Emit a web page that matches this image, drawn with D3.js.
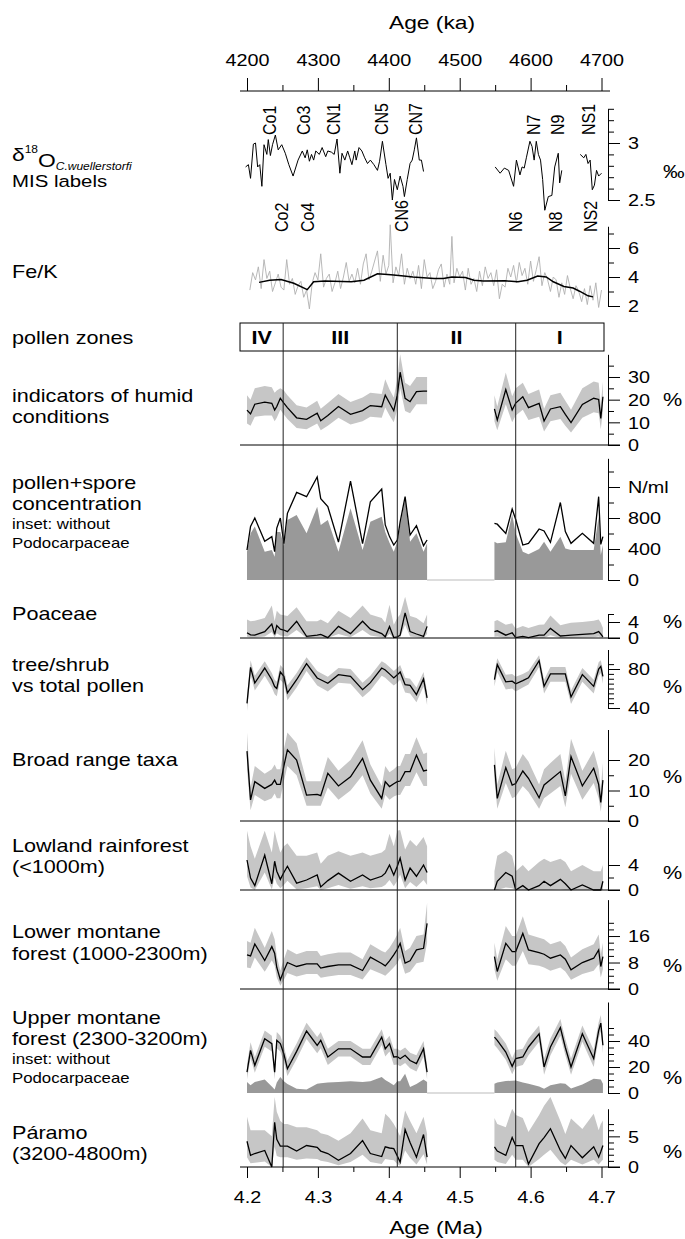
<!DOCTYPE html>
<html>
<head>
<meta charset="utf-8">
<script src="https://cdn.jsdelivr.net/npm/d3@7"></script>
<style>
  body { margin: 0; background: #fff; }
  svg text { font-family: "Liberation Sans", Arial, sans-serif; fill: #000; }
</style>
</head>
<body>
<svg id="chart" width="685" height="1239"></svg>
<script>
// ---------------- pollen samples (age in Ma) ----------------
const sampleAge = [4.200, 4.205, 4.211, 4.225, 4.235, 4.239, 4.242, 4.247, 4.252, 4.257, 4.270, 4.284, 4.299, 4.304, 4.314,
  4.329, 4.346, 4.363, 4.374, 4.390, 4.395, 4.401, 4.407, 4.412, 4.416, 4.423, 4.430, 4.439, 4.449, 4.454,
  4.549, 4.553, 4.565, 4.574, 4.579, 4.589, 4.597, 4.612, 4.619, 4.628, 4.642, 4.649, 4.657, 4.673, 4.689, 4.696, 4.699, 4.702];

// indicators of humid conditions (%)
const humidVal = [15.4, 13.7, 18, 18.9, 18.4, 15.4, 17, 20.6, 18.5, 16.5, 12, 11.3, 14, 10.7, 13, 17, 13.5, 15.2, 17.4, 16.9, 22, 18.5, 15.1, 22, 32.1, 20.6, 19.1, 23.5, 23.8, 23.8,
  15.9, 11, 24.5, 15.4, 18.5, 21.3, 16.5, 18.4, 10.6, 15.9, 16.9, 13.5, 9.9, 17.9, 20.6, 20.1, 11.7, 21.3];
const humidHi = [22, 20, 25, 26, 25.5, 23, 24, 25, 24, 22, 17.5, 16.5, 19.5, 16, 18.5, 22.5, 19, 21, 23, 22.5, 29, 24.5, 21, 29, 40, 27.5, 26, 30, 30, 30,
  22, 17, 32, 21.5, 25, 27.5, 22.5, 24.5, 16, 22, 23, 19.5, 15.5, 25, 28, 27.5, 17.5, 28];
const humidLo = [9.5, 8.5, 12.5, 13, 13, 10.5, 12, 15.5, 13.5, 11.5, 7.5, 7, 9.5, 6.5, 8.5, 12, 9, 10.5, 12.5, 12, 16.5, 13, 10, 16, 25, 15, 14, 18, 18, 18,
  10.5, 6.5, 18, 10, 13, 15.5, 11, 12.5, 6, 10.5, 11.5, 8.5, 5.5, 12, 14.5, 14, 7, 15];

// pollen + spore concentration (N/ml), total and without Podocarpaceae
const concTotal = [387, 690, 800, 500, 560, 365, 670, 800, 470, 860, 1130, 1075, 1330, 1050, 946, 490, 1277, 470, 1010, 1174, 710, 560, 451, 516, 750, 1075, 580, 700, 443, 516,
  730, 720, 600, 916, 780, 451, 473, 658, 632, 486, 1000, 624, 473, 602, 473, 1075, 460, 559];
const concNoPodo = [365, 600, 690, 365, 387, 300, 620, 620, 440, 774, 838, 602, 946, 710, 774, 365, 925, 387, 752, 817, 620, 480, 365, 495, 700, 1050, 495, 602, 365, 473,
  495, 473, 486, 847, 600, 365, 331, 400, 495, 365, 559, 408, 387, 387, 387, 817, 322, 451];

// Poaceae (%)
const poaceaeVal = [1.3, 0.8, 0.7, 1.6, 3.5, 0.9, 3.1, 2.2, 2.0, 1.6, 4.2, 0.4, 0.7, 0.9, 0.1, 2.9, 1.1, 4.2, 2.2, 1.1, 0.3, 2.9, 0.1, 0.3, 0.7, 6.3, 1.6, 1.0, 0.4, 2.9,
  1.6, 1.8, 0.7, 1.3, 0.1, 0.4, 0.1, 0.7, 0.7, 2.4, 0.5, 0.6, 0.7, 0.9, 1.1, 1.6, 1.0, 0.3];
const poaceaeHi = [4.6, 4.2, 4.3, 5, 8.1, 4.2, 6.8, 5.9, 5.7, 5.5, 7.7, 4.2, 4.2, 4.6, 3.7, 6.8, 5, 8.1, 5.9, 5, 3.8, 8.3, 3.3, 5, 5.9, 10.3, 5.5, 5, 3.7, 5.9,
  4.2, 4.5, 3.3, 3.7, 2.3, 3, 2.5, 3.3, 3.4, 5.6, 3.2, 3.5, 3.8, 4, 4.3, 4.6, 3.8, 2.5];
const poaceaeLo = [0.3, 0.1, 0.1, 0.4, 1.5, 0.1, 1.2, 0.6, 0.5, 0.4, 2, 0, 0.1, 0.1, 0, 1, 0.2, 2, 0.6, 0.2, 0, 1, 0, 0, 0.1, 3.3, 0.4, 0.2, 0, 1,
  0.3, 0.4, 0, 0.2, 0, 0, 0, 0, 0, 0.7, 0, 0, 0, 0.1, 0.2, 0.4, 0.1, 0];

// tree/shrub vs total pollen (%)
const treeVal = [44.8, 81.7, 65.6, 81, 69, 62, 60, 76.9, 72.5, 55.4, 69, 85.5, 70.8, 69, 65.3, 74.2, 72.5, 58.8, 66, 81, 79, 75, 70.8, 74, 76.9, 63.9, 63.2, 53.7, 69.8, 50.3,
  69.2, 84.5, 66.8, 67.5, 64.8, 68, 71, 88.5, 62.2, 74.9, 74.9, 74.9, 51.3, 74.2, 62.2, 80, 82.7, 72.5];
const treeHi = [52, 89, 73, 88, 76, 69, 67, 84, 80, 63, 76, 92, 78, 76, 72, 81, 80, 66, 73, 88, 86, 82, 78, 81, 84, 71, 70, 61, 77, 57,
  76, 91, 74, 75, 72, 75, 78, 94, 69, 82, 82, 82, 58, 81, 69, 87, 89, 79];
const treeLo = [37, 74, 58, 73, 61, 54, 52, 69, 65, 48, 61, 78, 63, 61, 57, 66, 65, 51, 58, 73, 71, 67, 63, 66, 69, 56, 55, 46, 62, 43,
  62, 77, 59, 60, 57, 61, 64, 82, 55, 67, 67, 67, 44, 67, 55, 73, 76, 65];

// broad range taxa (%)
const broadVal = [22.9, 6.9, 12.9, 10.7, 12, 13.4, 12, 12, 18, 23.3, 20, 8.5, 8.7, 8.3, 15.6, 11.5, 14.5, 20.5, 13.4, 7.4, 12.9, 11.3, 12.2, 12.9, 13.1, 16.2, 16.2, 21.6, 16.4, 16.7,
  18.4, 7.4, 17.5, 11.8, 12.3, 16.4, 14, 7.6, 11.8, 13.5, 16.2, 8.2, 21.1, 11.5, 17.3, 12, 6.1, 13.4];
const broadHi = [29, 11, 18, 15.5, 17, 18.5, 17, 17, 23.5, 29, 25.5, 13, 13, 13, 21, 16.5, 20, 26.5, 18.5, 11.5, 18, 16, 17, 18, 18, 22, 22, 27.5, 22, 22.5,
  24, 12, 23, 17, 17.5, 22, 19.5, 12, 17, 19, 22, 13, 27, 16.5, 23, 17, 10.5, 19];
const broadLo = [17, 3.5, 8.5, 6.5, 7.5, 9, 7.5, 7.5, 13, 18, 15, 5, 5, 5, 11, 7, 10, 15, 9, 4, 8.5, 7, 8, 8.5, 8.5, 11.5, 11.5, 16, 11.5, 11.5,
  13.5, 4, 12.5, 7.5, 8, 11.5, 9.5, 4, 7.5, 9, 11.5, 4.5, 15.5, 7, 12.5, 7.5, 3, 9];

// lowland rainforest (<1000 m) (%)
const lowlandVal = [4.8, 1.9, 0.7, 5.6, 1.0, 4.6, 3.0, 1.7, 2.8, 3.8, 1.1, 1.6, 2.4, 0.5, 1.5, 2.7, 1.4, 2.4, 1.6, 2.2, 2.7, 4.0, 2.4, 3.8, 5.1, 1.6, 3.5, 2.2, 4.0, 2.8,
  0, 1.4, 2.8, 2.2, 0, 0.7, 0, 0.7, 1.4, 0.7, 1.7, 1.0, 0, 0.8, 0, 0, 0, 1.4];
const lowlandHi = [9.5, 7, 5, 9.5, 6, 9.5, 8, 6, 7, 7.5, 5.5, 5.5, 6, 4.2, 5.5, 6.2, 5.5, 6, 5.5, 6, 6.5, 9, 7, 9.5, 9.6, 6.5, 8, 7, 8.5, 7,
  3, 5.5, 6.3, 5.5, 3, 4, 3, 4.5, 5, 4.5, 5, 4.5, 3, 4, 3, 3, 3, 4];
const lowlandLo = [2.2, 0.4, 0, 2.8, 0.1, 2, 1, 0.3, 0.8, 1.5, 0.1, 0.3, 0.6, 0, 0.3, 0.8, 0.2, 0.6, 0.3, 0.5, 0.8, 1.6, 0.6, 1.5, 2.5, 0.3, 1.3, 0.5, 1.6, 0.8,
  0, 0, 0.4, 0.3, 0, 0, 0, 0, 0, 0, 0.1, 0, 0, 0, 0, 0, 0, 0];

// lower montane forest (1000-2300 m) (%)
const lowerMontVal = [10.3, 10, 13.6, 8.6, 12.8, 10.8, 6.5, 2.8, 5.5, 8, 6.8, 7.6, 7.6, 6.3, 6.8, 7.3, 7.3, 5.6, 9.6, 7.7, 7, 8.5, 10.3, 12, 13.8, 7.8, 8.5, 11.8, 12.3, 19.8,
  9.8, 5.3, 13.8, 11.3, 11.3, 16.8, 11.8, 11, 10.5, 9.3, 10.3, 9, 5.8, 8, 9.3, 11.8, 6.8, 9.8];
const lowerMontHi = [14.5, 14, 18.5, 12.5, 17.5, 15, 10, 5.5, 9, 12, 10.5, 11.5, 11.5, 10, 10.5, 11, 11, 9, 13.5, 11.5, 11, 12.5, 14.5, 16.5, 18.5, 11.5, 12.5, 16, 16.5, 26,
  14, 9, 19, 16, 16, 22, 16.5, 15.5, 15, 13.5, 14.5, 13, 9.5, 12, 13.5, 16.5, 10.5, 14];
const lowerMontLo = [6.5, 6.3, 9.5, 5.2, 8.7, 7, 3.5, 1, 2.8, 4.8, 3.8, 4.5, 4.5, 3.4, 3.8, 4.2, 4.2, 2.9, 6, 4.5, 4, 5.2, 6.6, 7.8, 9.5, 4.6, 5.2, 7.8, 8.2, 14,
  6, 2.5, 9, 7, 7, 11.5, 7.5, 7, 6.5, 5.5, 6.5, 5.3, 2.8, 4.5, 5.5, 7.5, 3.5, 6];

// upper montane forest (2300-3200 m) (%), and without Podocarpaceae
const upperMontVal = [16, 32.8, 21.3, 41.8, 38, 16, 40.5, 38, 30, 18.7, 32, 47.7, 36.7, 40.5, 27.7, 34, 34, 27.7, 27.7, 43, 34, 38, 27.7, 28, 26.4, 29, 25, 22.6, 34, 16,
  43, 40.5, 31.5, 20.5, 26.4, 27.7, 35.4, 45.6, 20, 35.4, 50.3, 35, 20, 45.6, 26.4, 48, 53.8, 36.7];
const upperMontHi = [22, 39, 27.5, 48, 44, 22, 47, 44, 36, 25, 38, 54, 43, 47, 34, 40, 40, 34, 34, 49, 40, 44, 34, 34, 32.5, 35, 31, 29, 40, 22,
  49, 47, 38, 27, 33, 34, 42, 52, 26.5, 42, 57, 41.5, 26.5, 52, 33, 54.5, 60, 43];
const upperMontLo = [10.5, 27, 15.5, 35.5, 32, 10.5, 34.5, 32, 24, 13, 26, 41.5, 30.5, 34.5, 21.5, 28, 28, 21.5, 21.5, 37, 28, 32, 21.5, 22, 20.5, 23, 19, 16.5, 28, 10.5,
  37, 34.5, 25.5, 14.5, 20, 21.5, 29, 39.5, 14, 29, 44, 29, 14, 39.5, 20, 42, 47.5, 30.5];
const upperMontNoPodo = [8.5, 5.9, 8.5, 10.3, 5, 2.6, 8, 12.3, 9, 7, 3.3, 2.6, 7.2, 7.5, 8, 8.5, 9, 8.5, 9, 12.3, 10, 8, 6, 9, 9, 14.9, 4.6, 7, 10.3, 8.5,
  7.2, 8, 9.2, 9.5, 9.7, 8, 7.2, 5, 3.3, 6, 7.5, 7.2, 3.5, 6.5, 11, 10.5, 10.3, 7.2];

// Páramo (3200-4800 m) (%)
const paramoVal = [4.2, 1.9, 2.2, 2.7, 0, 7.3, 4.5, 3.4, 3.4, 3.4, 2.6, 3.5, 3.2, 2.6, 2.2, 1.1, 2.2, 4.3, 2.2, 1.7, 3.3, 3.1, 3.0, 1.8, 0.8, 6.1, 4.0, 1.6, 5.3, 1.6,
  3.3, 2.6, 1.9, 4.8, 3.5, 3.5, 0.5, 3.8, 4.8, 6.25, 2.7, 1.4, 3.5, 1.5, 3.3, 1.6, 2.5, 3.5];
const paramoHi = [8.2, 6, 6, 6, 5, 11.4, 9, 7.5, 7, 7, 6.5, 6.5, 6, 5.5, 5.2, 4.3, 5.5, 7.9, 6, 5.5, 8.7, 8, 7, 6, 5, 9.2, 7.5, 5.5, 8.2, 5.4,
  8, 7, 6.5, 9.5, 8.5, 8, 5.7, 8.5, 10, 11.4, 7.5, 5.4, 7.9, 6.2, 8.7, 6, 7, 7.6];
const paramoLo = [1.6, 0.6, 0.7, 0.9, 0, 3.3, 1.8, 1.6, 1.6, 1.6, 1.2, 1.4, 1.3, 1, 0.8, 0.3, 0.8, 2, 0.8, 0.5, 1.3, 1.2, 1.1, 0.5, 0.2, 2.7, 1.5, 0.4, 2.1, 0.4,
  1.2, 0.8, 0.5, 2, 1.2, 1.2, 0, 1.3, 2, 2.8, 0.8, 0.3, 1.2, 0.4, 1.2, 0.4, 0.8, 1.2];

// ---------------- benthic δ18O (C. wuellerstorfi), ‰ ----------------
const d18oAge = [4.198, 4.202, 4.205, 4.209, 4.212, 4.215, 4.218, 4.221, 4.224, 4.228, 4.230, 4.233, 4.236, 4.240, 4.244, 4.249, 4.254, 4.259, 4.265, 4.272,
  4.278, 4.282, 4.285, 4.288, 4.291, 4.294, 4.297, 4.302, 4.306, 4.311, 4.314, 4.319, 4.323, 4.327, 4.331, 4.334, 4.338, 4.342, 4.345, 4.348,
  4.352, 4.354, 4.358, 4.362, 4.366, 4.370, 4.374, 4.379, 4.384, 4.387, 4.391, 4.396, 4.399, 4.402, 4.405, 4.408, 4.412, 4.416, 4.420, 4.422,
  4.426, 4.430, 4.433, 4.436, 4.439, 4.443, 4.446, 4.449,
  4.550, 4.557, 4.563, 4.569, 4.576, 4.580, 4.585, 4.588, 4.591, 4.594, 4.599, 4.602, 4.605, 4.608, 4.611, 4.614, 4.617, 4.620, 4.625, 4.630,
  4.634, 4.639, 4.641, 4.644,
  4.670, 4.675, 4.678, 4.681, 4.684, 4.687, 4.690, 4.693, 4.696, 4.700];
const d18oVal = [2.79, 2.81, 2.69, 2.99, 3.0, 2.79, 2.81, 2.62, 2.985, 2.9, 3.03, 2.89, 2.985, 3.07, 2.94, 2.985, 2.91, 2.81, 2.71, 2.85,
  2.93, 2.87, 2.94, 2.84, 2.9, 2.85, 2.93, 2.9, 2.96, 2.88, 2.93, 2.92, 2.9, 3.035, 2.735, 2.91, 2.85, 2.93, 2.87, 2.81,
  2.93, 2.85, 2.96, 2.93, 2.87, 2.82, 2.85, 2.81, 2.76, 2.84, 3.015, 2.81, 2.69, 2.735, 2.5, 2.68, 2.59, 2.71, 2.62, 2.53,
  2.68, 2.82, 2.85, 2.94, 3.045, 2.85, 2.85, 2.75,
  2.79, 2.735, 2.78, 2.76, 2.62, 2.85, 2.72, 2.79, 2.78, 2.87, 3.015, 2.97, 2.85, 3.015, 2.9, 2.85, 2.68, 2.41, 2.53, 2.54,
  2.79, 2.91, 2.65, 2.76,
  2.9, 2.87, 2.9, 2.82, 2.85, 2.59, 2.63, 2.76, 2.71, 2.735];

// marine isotope stage labels
const misTopLabel = ["Co1", "Co3", "CN1", "CN5", "CN7", "N7", "N9", "NS1"];
const misTopAge = [4.232, 4.279, 4.322, 4.390, 4.437, 4.604, 4.638, 4.681];
const misBottomLabel = ["Co2", "Co4", "CN6", "N6", "N8", "NS2"];
const misBottomAge = [4.248, 4.285, 4.418, 4.579, 4.635, 4.684];

// ---------------- XRF Fe/K ----------------
const feKAge = [4.204, 4.208, 4.212, 4.216, 4.220, 4.224, 4.228, 4.232, 4.236, 4.240, 4.244, 4.248, 4.252, 4.256, 4.260, 4.264, 4.268, 4.272, 4.276, 4.280,
  4.284, 4.288, 4.292, 4.296, 4.300, 4.304, 4.308, 4.312, 4.316, 4.320, 4.324, 4.328, 4.332, 4.336, 4.340, 4.344, 4.348, 4.352, 4.356, 4.360,
  4.364, 4.368, 4.372, 4.376, 4.380, 4.384, 4.388, 4.392, 4.396, 4.400, 4.402, 4.406, 4.410, 4.414, 4.418, 4.422, 4.426, 4.430, 4.434, 4.438,
  4.442, 4.446, 4.450, 4.454, 4.458, 4.462, 4.466, 4.470, 4.474, 4.478, 4.482, 4.486, 4.489, 4.492, 4.496, 4.500, 4.504, 4.508, 4.512, 4.516,
  4.520, 4.524, 4.528, 4.532, 4.536, 4.540, 4.544, 4.548, 4.552, 4.556, 4.560, 4.564, 4.568, 4.572, 4.576, 4.580, 4.584, 4.588, 4.592, 4.596,
  4.600, 4.604, 4.608, 4.612, 4.616, 4.620, 4.624, 4.628, 4.632, 4.636, 4.640, 4.644, 4.648, 4.652, 4.656, 4.660, 4.664, 4.668, 4.672, 4.676,
  4.680, 4.684, 4.688, 4.692, 4.696, 4.700];
const feKRaw = [3.1, 4.3, 3.8, 4.7, 3.2, 5.2, 3.9, 4.4, 3.0, 3.6, 4.2, 3.3, 3.1, 5.2, 3.5, 3.9, 2.8, 3.4, 3.7, 2.6,
  3.1, 1.8, 3.6, 4.3, 3.8, 5.6, 3.3, 3.9, 4.2, 3.0, 3.6, 4.4, 3.2, 4.0, 5.0, 3.7, 4.2, 3.6, 4.6, 3.5,
  4.9, 5.6, 3.8, 4.4, 5.1, 5.8, 3.7, 5.5, 4.2, 4.8, 7.6, 3.6, 4.7, 4.1, 5.6, 3.5, 4.6, 3.9, 4.4, 3.5,
  4.8, 3.2, 5.2, 4.0, 4.3, 3.2, 3.7, 4.5, 4.9, 3.3, 4.2, 3.5, 6.8, 3.6, 4.6, 4.0, 4.4, 3.1, 4.6, 3.5,
  3.9, 3.0, 4.4, 3.4, 4.7, 3.9, 4.3, 3.4, 4.5, 2.5, 3.5, 3.3, 4.6, 4.0, 4.8, 3.6, 5.0, 4.1, 4.6, 3.5,
  5.1, 3.7, 4.5, 5.4, 3.4, 4.3, 3.8, 3.0, 4.0, 3.8, 2.6, 3.6, 2.8, 4.1, 3.2, 2.5, 3.4, 3.0, 2.3, 3.2,
  2.1, 3.4, 2.4, 3.6, 1.9, 3.1];
const feKSmoothAge = [4.217, 4.232, 4.248, 4.266, 4.285, 4.294, 4.310, 4.347, 4.365, 4.384, 4.403, 4.421, 4.434, 4.464, 4.477,
  4.489, 4.508, 4.520, 4.533, 4.564, 4.582, 4.595, 4.610, 4.622, 4.632, 4.647, 4.660, 4.669, 4.681, 4.688];
const feKSmooth = [3.63, 3.78, 3.83, 3.57, 3.13, 3.67, 3.72, 3.67, 3.78, 4.22, 4.15, 4.07, 4.0, 3.89, 3.89,
  4.0, 3.96, 3.78, 3.72, 3.74, 3.67, 3.78, 4.07, 4.0, 3.67, 3.35, 3.24, 3.02, 2.7, 2.63];

// ---------------- pollen zones & axes ----------------
const zoneBounds = [4.251, 4.412, 4.579];
const zoneNames = ["IV", "III", "II", "I"];
const maTicks = [4.2, 4.3, 4.4, 4.5, 4.6, 4.7];
const maMinorTicks = [4.25, 4.35, 4.45, 4.55, 4.65];
const kaTicks = [4200, 4300, 4400, 4500, 4600, 4700];
const kaMinorTicks = [4250, 4350, 4450, 4550, 4650];

// ---------------- drawing ----------------
const SX = 1.2;                 // lettering is set slightly wide
const svg = d3.select("#chart");
const x = d3.scaleLinear().domain([4.2, 4.7]).range([247, 601.5]);
const xKa = d3.scaleLinear().domain([4200, 4700]).range([247, 601.5]);
const AXIS_X = 608, LEFT = 240, RIGHT = 620;
const BAND = "#c6c6c6", FILL = "#999999";

function label(parent, px, py, s, size, opt = {}) {
  const t = parent.append("text")
    .attr("transform", `translate(${px},${py}) scale(${SX},1)` + (opt.rotate ? ` rotate(${opt.rotate})` : ""))
    .attr("font-size", size)
    .attr("dy", opt.dy || "0.35em")
    .attr("text-anchor", opt.anchor || "start");
  if (opt.bold) t.attr("font-weight", "bold");
  if (s != null) t.text(s);
  return t;
}

function runs(ages, maxGap) {
  const out = [[]];
  ages.forEach((a, i) => {
    if (i > 0 && a - ages[i - 1] > maxGap) out.push([]);
    out[out.length - 1].push(i);
  });
  return out;
}

function rightAxis(g, y, major, labels, minor, labelSize) {
  const minorAx = d3.axisRight(y).tickValues(minor).tickSize(6).tickSizeOuter(0).tickFormat("");
  const majorAx = d3.axisRight(y).tickValues(major).tickSize(12).tickSizeOuter(0)
    .tickFormat((d, i) => labels[i]);
  g.append("g").attr("transform", `translate(${AXIS_X},0)`).call(minorAx)
    .call(s => s.select(".domain").remove());
  const gm = g.append("g").attr("transform", `translate(${AXIS_X},0)`).call(majorAx)
    .attr("font-family", null).attr("font-size", null);
  gm.selectAll(".tick text")
    .attr("x", null).attr("dy", "0.35em")
    .attr("font-size", labelSize || 16.5)
    .attr("transform", `translate(20,0) scale(${SX},1)`);
  g.selectAll("path.domain, .tick line").attr("stroke", "#000").attr("stroke-width", 1);
}

const pollenRuns = runs(sampleAge, 0.05);

function pollenPanel(p) {
  const top = p.base - (p.max - p.min) * p.ppu;
  const y = d3.scaleLinear().domain([p.min, p.max]).range([p.base, top]);
  const g = svg.append("g");
  if (p.fill) {
    pollenRuns.forEach(r => g.append("path").datum(r)
      .attr("fill", FILL)
      .attr("d", d3.area().x(i => x(sampleAge[i])).y0(y(p.min)).y1(i => y(p.fill[i]))));
    g.append("line")
      .attr("x1", x(sampleAge[pollenRuns[0][pollenRuns[0].length - 1]]))
      .attr("x2", x(sampleAge[pollenRuns[1][0]]))
      .attr("y1", y(p.min)).attr("y2", y(p.min))
      .attr("stroke", "#bbbbbb").attr("stroke-width", 1);
  }
  if (p.hi) {
    pollenRuns.forEach(r => g.append("path").datum(r)
      .attr("fill", BAND)
      .attr("d", d3.area().x(i => x(sampleAge[i])).y0(i => y(p.lo[i])).y1(i => y(p.hi[i]))));
  }
  pollenRuns.forEach(r => g.append("path").datum(r)
    .attr("fill", "none").attr("stroke", "#000").attr("stroke-width", 1.3)
    .attr("stroke-linejoin", "miter")
    .attr("d", d3.line().x(i => x(sampleAge[i])).y(i => y(p.val[i]))));
  if (p.baseline) {
    g.append("line").attr("x1", LEFT).attr("x2", RIGHT)
      .attr("y1", y(p.min)).attr("y2", y(p.min))
      .attr("stroke", "#000").attr("stroke-width", 1);
  }
  rightAxis(g, y, p.major, p.labels, p.minor);
  if (p.unit) label(g, 663, p.unitY, p.unit, 18);
}

// δ18O panel
{
  const yO = d3.scaleLinear().domain([2.5, 3.3]).range([200, 200 - 0.8 * 114]);
  const g = svg.append("g");
  runs(d18oAge, 0.02).forEach(r => g.append("path").datum(r)
    .attr("fill", "none").attr("stroke", "#000").attr("stroke-width", 1)
    .attr("d", d3.line().x(i => x(d18oAge[i])).y(i => yO(d18oVal[i]))));
  rightAxis(g, yO, [2.5, 3.0], ["2.5", "3"], [2.6, 2.7, 2.8, 2.9, 3.1, 3.2, 3.3]);
  label(g, 663, 172, "‰", 18);
  misTopLabel.forEach((s, i) => label(g, x(misTopAge[i]), 135, s, 16, { rotate: -90 }));
  misBottomLabel.forEach((s, i) => label(g, x(misBottomAge[i]), 232, s, 16, { rotate: -90 }));
}

// Fe/K panel
{
  const yF = d3.scaleLinear().domain([2, 7.5]).range([306, 306 - 5.5 * 14.5]);
  const g = svg.append("g");
  g.append("path").datum(feKRaw)
    .attr("fill", "none").attr("stroke", "#b0b0b0").attr("stroke-width", 0.9)
    .attr("d", d3.line().x((d, i) => x(feKAge[i])).y(d => yF(d)));
  g.append("path").datum(feKSmooth)
    .attr("fill", "none").attr("stroke", "#000").attr("stroke-width", 1.5)
    .attr("d", d3.line().x((d, i) => x(feKSmoothAge[i])).y(d => yF(d)));
  rightAxis(g, yF, [2, 4, 6], ["2", "4", "6"], [3, 5, 7]);
}

// pollen zone box
{
  const g = svg.append("g");
  g.append("rect").attr("x", LEFT).attr("y", 323).attr("width", 604 - LEFT).attr("height", 28)
    .attr("fill", "none").attr("stroke", "#000").attr("stroke-width", 1);
  const edges = [LEFT, ...zoneBounds.map(x), 604];
  zoneNames.forEach((s, i) => label(g, (edges[i] + edges[i + 1]) / 2, 338, s, 18, { anchor: "middle", bold: true }));
}

pollenPanel({ val: humidVal, lo: humidLo, hi: humidHi, min: 0, max: 40, base: 445, ppu: 2.267, baseline: true,
  major: [0, 10, 20, 30], labels: ["0", "10", "20", "30"], minor: [5, 15, 25, 35], unit: "%", unitY: 400 });
pollenPanel({ val: concTotal, fill: concNoPodo, min: 0, max: 1570, base: 580, ppu: 0.0775,
  major: [0, 400, 800, 1200], labels: ["0", "400", "800", "N/ml"], minor: [200, 600, 1000, 1400] });
pollenPanel({ val: poaceaeVal, lo: poaceaeLo, hi: poaceaeHi, min: 0, max: 6, base: 638, ppu: 4, baseline: true,
  major: [0, 4], labels: ["0", "4"], minor: [6], unit: "%", unitY: 622 });
pollenPanel({ val: treeVal, lo: treeLo, hi: treeHi, min: 40, max: 100, base: 708, ppu: 0.975,
  major: [40, 80], labels: ["40", "80"], minor: [45, 50, 55, 60, 65, 70, 75, 85], unit: "%", unitY: 687 });
pollenPanel({ val: broadVal, lo: broadLo, hi: broadHi, min: 0, max: 30, base: 821, ppu: 3.05, baseline: true,
  major: [0, 10, 20], labels: ["0", "10", "20"], minor: [5, 15], unit: "%", unitY: 777 });
pollenPanel({ val: lowlandVal, lo: lowlandLo, hi: lowlandHi, min: 0, max: 10, base: 890, ppu: 6.25, baseline: true,
  major: [0, 4], labels: ["0", "4"], minor: [2], unit: "%", unitY: 873 });
pollenPanel({ val: lowerMontVal, lo: lowerMontLo, hi: lowerMontHi, min: 0, max: 27, base: 989, ppu: 3.31, baseline: true,
  major: [0, 8, 16], labels: ["0", "8", "16"], minor: [2, 4, 6, 10, 12, 14, 18, 20], unit: "%", unitY: 966 });
pollenPanel({ val: upperMontVal, lo: upperMontLo, hi: upperMontHi, fill: upperMontNoPodo, min: 0, max: 70, base: 1093, ppu: 1.3,
  major: [0, 20, 40], labels: ["0", "20", "40"], minor: [5, 10, 15, 25, 30, 35, 45, 50], unit: "%", unitY: 1078 });
pollenPanel({ val: paramoVal, lo: paramoLo, hi: paramoHi, min: 0, max: 9.5, base: 1167, ppu: 6.13, baseline: true,
  major: [0, 5], labels: ["0", "5"], minor: [1, 2, 3, 4, 6, 7], unit: "%", unitY: 1152 });

// zone boundaries run through all pollen panels
svg.append("g").selectAll("line").data(zoneBounds).join("line")
  .attr("x1", d => x(d)).attr("x2", d => x(d)).attr("y1", 323).attr("y2", 1167)
  .attr("stroke", "#222").attr("stroke-width", 1);

// bottom age axis (Ma)
{
  const g = svg.append("g").attr("transform", "translate(0,1167)");
  g.call(d3.axisBottom(x).tickValues(maMinorTicks).tickSize(5).tickFormat(""))
    .call(s => s.select(".domain").remove());
  const gm = svg.append("g").attr("transform", "translate(0,1167)")
    .call(d3.axisBottom(x).tickValues(maTicks).tickSize(11).tickFormat(d3.format(".1f")))
    .attr("font-family", null).attr("font-size", null);
  gm.select(".domain").remove();
  gm.selectAll(".tick text").attr("y", null).attr("dy", "0.35em").attr("font-size", 16.5)
    .attr("transform", `translate(0,30) scale(${SX},1)`);
  svg.selectAll(".tick line").attr("stroke", "#000");
  label(svg, 436, 1227, "Age (Ma)", 19, { anchor: "middle" });
}

// top age axis (ka)
{
  svg.append("line").attr("x1", LEFT).attr("x2", 610).attr("y1", 91).attr("y2", 91)
    .attr("stroke", "#000").attr("stroke-width", 1);
  const g = svg.append("g").attr("transform", "translate(0,91)");
  g.call(d3.axisTop(xKa).tickValues(kaMinorTicks).tickSize(6).tickFormat(""))
    .call(s => s.select(".domain").remove());
  const gm = svg.append("g").attr("transform", "translate(0,91)")
    .call(d3.axisTop(xKa).tickValues(kaTicks).tickSize(13).tickFormat(d3.format("d")))
    .attr("font-family", null).attr("font-size", null);
  gm.select(".domain").remove();
  gm.selectAll(".tick text").attr("y", null).attr("dy", "0.35em").attr("font-size", 16.5)
    .attr("transform", `translate(0,-31) scale(${SX},1)`);
  svg.selectAll(".tick line").attr("stroke", "#000");
  label(svg, 432, 22, "Age (ka)", 19, { anchor: "middle" });
}

// panel titles
{
  const g = svg.append("g");
  const L = 12;
  const t = label(g, L, 154, null, 19);
  t.append("tspan").text("δ");
  t.append("tspan").attr("font-size", 10).attr("dy", "-0.75em").text("18");
  t.append("tspan").attr("dy", "0.75em").text("O");
  t.append("tspan").attr("font-size", 10).attr("font-style", "italic").attr("dy", "0.3em").text("C.wuellerstorfi");
  label(g, L, 181, "MIS labels", 17);
  label(g, L, 272, "Fe/K", 18);
  label(g, L, 338, "pollen zones", 18);
  label(g, L, 396, "indicators of humid", 18);
  label(g, L, 417, "conditions", 18);
  label(g, L, 483, "pollen+spore", 18);
  label(g, L, 504, "concentration", 18);
  label(g, L, 524, "inset: without", 14);
  label(g, L, 543, "Podocarpaceae", 14);
  label(g, L, 614, "Poaceae", 18);
  label(g, L, 665, "tree/shrub", 18);
  label(g, L, 686, "vs total pollen", 18);
  label(g, L, 760, "Broad range taxa", 18);
  label(g, L, 846, "Lowland rainforest", 18);
  label(g, L, 867, "(<1000m)", 18);
  label(g, L, 932, "Lower montane", 18);
  label(g, L, 954, "forest (1000-2300m)", 18);
  label(g, L, 1018, "Upper montane", 18);
  label(g, L, 1039, "forest (2300-3200m)", 18);
  label(g, L, 1059, "inset: without", 14);
  label(g, L, 1078, "Podocarpaceae", 14);
  label(g, L, 1133, "Páramo", 18);
  label(g, L, 1154, "(3200-4800m)", 18);
}
</script>
</body>
</html>
